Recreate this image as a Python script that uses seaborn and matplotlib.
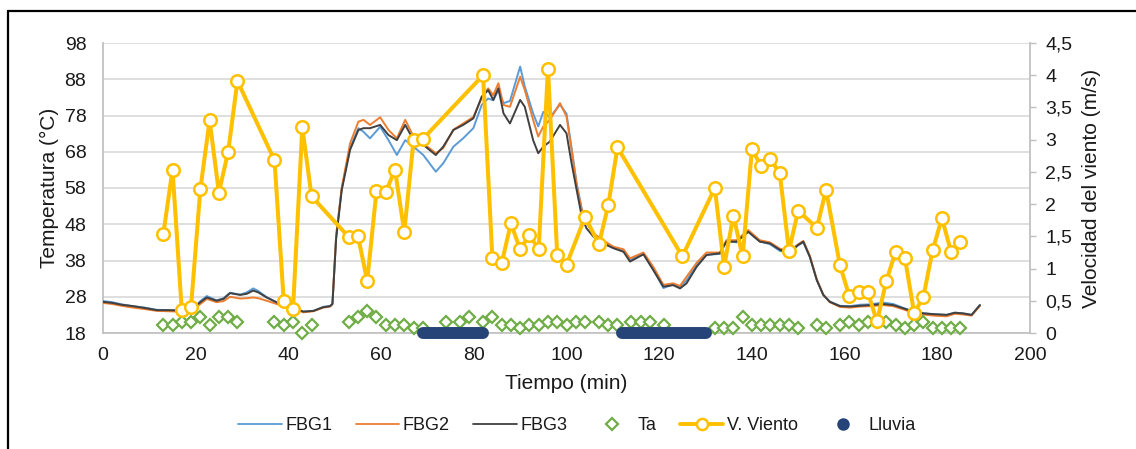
import numpy as np
import pandas as pd
import matplotlib
matplotlib.use("Agg")
import matplotlib.pyplot as plt
from matplotlib.lines import Line2D
import seaborn as sns

# ---------------- data ----------------
t_fbg = [0, 2, 4, 6.5, 9, 11.6, 14, 16.6, 19.5, 21, 22.4, 24.5, 26, 27.4, 29.6, 31, 32.4, 33.5,
         35.3, 38.2, 41, 43.2, 45.4, 47.5, 49, 49.5, 50.3, 51.5, 53.3, 55.1, 56.2, 57.6, 59.8,
         61.6, 63.4, 65.2, 67.0, 69.1, 71.8, 73.4, 75.6, 77.7, 79.9, 81.7, 83.1, 84.2, 85.3,
         86.4, 87.8, 90.0, 91.0, 92.8, 93.9, 95.0, 96.4, 98.6, 100.0, 101.1, 102.2, 103.3,
         104.3, 105.8, 107.9, 110.1, 112.3, 113.7, 116.6, 118.7, 120.9, 123.0, 124.5, 125.9,
         128.1, 130.2, 133.1, 134.5, 136.7, 139.2, 141.7, 143.9, 146.1, 148.2, 150.0, 151.1,
         152.5, 154.0, 155.4, 156.8, 159.0, 161.2, 163.3, 165.5, 168.3, 170.5, 172.7, 174.8,
         177.0, 179.1, 182.0, 183.8, 185.6, 187.4, 189.2]
fbg3 = [26.6, 26.3, 25.8, 25.4, 24.9, 24.3, 24.3, 24.2, 24.8, 26.5, 27.8, 26.9, 27.4, 29.0, 28.5,
        28.8, 29.7, 29.2, 27.8, 26.0, 25.0, 23.9, 24.1, 25.1, 25.4, 26.0, 44.0, 57.4, 68.5, 74.0,
        74.5, 74.5, 75.4, 72.6, 71.2, 75.4, 71.2, 69.9, 67.1, 69.4, 74.0, 75.4, 77.2, 83.2, 85.0,
        82.3, 85.5, 78.6, 75.8, 82.3, 80.4, 71.2, 67.6, 69.4, 70.8, 75.4, 73.1, 64.8, 57.4, 50.1,
        46.9, 44.6, 42.7, 41.4, 40.4, 37.7, 39.7, 35.4, 30.8, 31.2, 30.3, 31.7, 36.3, 39.5, 40.0,
        43.2, 43.2, 45.9, 43.2, 42.7, 40.9, 40.4, 42.3, 43.2, 39.0, 32.6, 28.5, 26.6, 25.4, 25.3,
        25.5, 25.7, 26.0, 25.7, 24.8, 23.9, 23.4, 23.2, 23.0, 23.6, 23.4, 23.0, 25.7]
fbg2 = [26.3, 26.0, 25.5, 25.0, 24.6, 24.1, 24.0, 23.9, 24.5, 26.0, 27.4, 26.5, 26.8, 28.0, 27.5,
        27.6, 27.8, 27.6, 26.9, 25.7, 24.8, 23.7, 24.0, 25.0, 25.3, 26.0, 45.0, 58.0, 70.3, 76.3,
        76.8, 75.4, 77.5, 74.0, 71.7, 76.8, 72.2, 70.3, 67.6, 69.0, 74.1, 75.8, 77.6, 82.8, 85.5,
        83.6, 86.9, 80.9, 80.4, 88.7, 85.0, 76.8, 72.2, 75.0, 76.8, 81.4, 77.7, 68.5, 58.8, 51.9,
        48.7, 45.5, 43.6, 41.8, 41.1, 38.6, 40.2, 36.3, 31.3, 31.7, 31.0, 33.5, 37.4, 40.2, 40.2,
        43.6, 43.6, 46.4, 43.6, 43.0, 41.2, 40.7, 42.5, 43.4, 39.3, 32.8, 28.6, 26.5, 25.2, 25.0,
        25.3, 25.4, 25.7, 25.4, 24.5, 23.6, 23.1, 22.8, 22.6, 23.3, 23.1, 22.8, 25.5]
fbg1 = [26.8, 26.5, 25.9, 25.4, 25.0, 24.4, 24.3, 24.2, 24.8, 26.8, 28.2, 27.0, 27.6, 29.1, 28.6,
        29.2, 30.3, 29.6, 27.9, 26.0, 25.0, 23.9, 24.1, 25.2, 25.5, 26.0, 44.5, 57.8, 69.0, 74.5,
        73.5, 71.7, 74.9, 71.2, 67.1, 71.2, 69.4, 67.1, 62.5, 64.8, 69.4, 71.7, 74.5, 80.9, 82.7,
        82.2, 85.0, 81.4, 82.0, 91.5, 86.0, 78.6, 75.0, 79.0, 77.5, 81.0, 78.5, 69.0, 59.2, 52.2,
        48.5, 45.2, 43.2, 41.6, 40.8, 38.1, 39.9, 35.6, 30.4, 31.4, 30.8, 32.5, 36.8, 39.6, 39.8,
        43.4, 43.0, 46.2, 43.3, 42.5, 40.6, 40.3, 42.2, 43.0, 39.0, 32.6, 28.5, 26.7, 25.5, 25.4,
        25.8, 25.9, 26.4, 26.0, 24.9, 24.0, 23.5, 23.2, 23.0, 23.6, 23.4, 23.0, 25.7]

t_wind = [13, 15, 17, 19, 21, 23, 25, 27, 29, 37, 39, 41, 43, 45, 53, 55, 57, 59, 61, 63, 65, 67,
          69, 82, 84, 86, 88, 90, 92, 94, 96, 98, 100, 104, 107, 109, 111, 125, 132, 134, 136,
          138, 140, 142, 144, 146, 148, 150, 154, 156, 159, 161, 163, 165, 167, 169, 171, 173,
          175, 177, 179, 181, 183, 185]
wind = [1.53, 2.53, 0.35, 0.41, 2.23, 3.30, 2.18, 2.81, 3.91, 2.68, 0.49, 0.38, 3.19, 2.12,
        1.49, 1.51, 0.81, 2.20, 2.19, 2.53, 1.57, 2.99, 3.01, 4.00, 1.17, 1.08, 1.70, 1.30,
        1.52, 1.30, 4.10, 1.21, 1.06, 1.80, 1.38, 1.98, 2.88, 1.19, 2.25, 1.03, 1.82, 1.19,
        2.85, 2.59, 2.70, 2.48, 1.28, 1.90, 1.63, 2.22, 1.05, 0.58, 0.63, 0.63, 0.18, 0.81,
        1.26, 1.17, 0.31, 0.56, 1.29, 1.78, 1.25, 1.41]

t_ta = [13, 15, 17, 19, 21, 23, 25, 27, 29, 37, 39, 41, 43, 45, 53, 55, 57, 59, 61, 63, 65, 67,
        69, 74, 77, 79, 82, 84, 86, 88, 90, 92, 94, 96, 98, 100, 102, 104, 107, 109, 111, 114,
        116, 118, 121, 132, 134, 136, 138, 140, 142, 144, 146, 148, 150, 154, 156, 159, 161,
        163, 165, 167, 169, 171, 173, 175, 177, 179, 181, 183, 185]
ta = [20.2, 20.2, 21.1, 21.1, 22.3, 20.2, 22.3, 22.3, 21.1, 21.1, 20.2, 21.1, 17.9, 20.2,
      21.1, 22.3, 24.2, 22.3, 20.2, 20.2, 20.2, 19.3, 19.3, 21.1, 21.1, 22.3, 21.1, 22.3,
      20.2, 20.2, 19.3, 20.2, 20.2, 21.1, 21.1, 20.2, 21.1, 21.1, 21.1, 20.2, 20.2, 21.1,
      21.1, 21.1, 20.2, 19.3, 19.3, 19.3, 22.3, 20.2, 20.2, 20.2, 20.2, 20.2, 19.3, 20.2,
      19.3, 20.2, 21.1, 20.2, 21.1, 21.1, 21.1, 20.2, 19.3, 20.2, 21.1, 19.3, 19.3, 19.3, 19.3]

rain_start = [69, 112]
rain_end = [82, 130]
rain_level = 0

x_ticks = [0, 20, 40, 60, 80, 100, 120, 140, 160, 180, 200]
y_left_ticks = [18, 28, 38, 48, 58, 68, 78, 88, 98]
y_right_ticks = [0, 0.5, 1, 1.5, 2, 2.5, 3, 3.5, 4, 4.5]
y_right_labels = ["0", "0,5", "1", "1,5", "2", "2,5", "3", "3,5", "4", "4,5"]

# ---------------- style ----------------
sns.set_theme(style="white")
plt.rcParams['font.family'] = ['Liberation Sans', 'DejaVu Sans']

C_BLUE = "#5B9BD5"
C_ORANGE = "#ED7D31"
C_DARK = "#404040"
C_GREEN = "#70AD47"
C_YELLOW = "#FFC000"
C_NAVY = "#264478"
GRID = "#d9d9d9"
TXT = "#1a1a1a"
FS_TICK = 14
FS_LAB = 15
FS_LEG = 13

fig = plt.figure(figsize=(11.36, 4.49), dpi=100)
ax = fig.add_axes([103 / 1136, 1 - 333 / 449, (1030 - 103) / 1136, (333 - 43) / 449])
ax2 = ax.twinx()

df_fbg = pd.DataFrame({"t": t_fbg, "FBG1": fbg1, "FBG2": fbg2, "FBG3": fbg3})
for name, col in [("FBG1", C_BLUE), ("FBG2", C_ORANGE), ("FBG3", C_DARK)]:
    sns.lineplot(data=df_fbg, x="t", y=name, ax=ax, color=col, linewidth=1.4,
                 sort=False, legend=False, zorder=3)

df_ta = pd.DataFrame({"t": t_ta, "Ta": ta})
ax.plot(df_ta["t"], df_ta["Ta"], linestyle="none", marker="D", markersize=6.2,
        markerfacecolor="white", markeredgecolor=C_GREEN, markeredgewidth=1.6,
        clip_on=False, zorder=4)

df_w = pd.DataFrame({"t": t_wind, "v": wind})
sns.lineplot(data=df_w, x="t", y="v", ax=ax2, color=C_YELLOW, linewidth=2.9, sort=False,
             marker="o", markersize=9, markerfacecolor="white", markeredgecolor=C_YELLOW,
             markeredgewidth=1.8, legend=False, zorder=5)

for s, e in zip(rain_start, rain_end):
    ax2.plot([s, e], [rain_level, rain_level], color=C_NAVY, linewidth=8.6,
             solid_capstyle="round", clip_on=False, zorder=6)

ax.set_xlim(0, 200)
ax.set_ylim(18, 98)
ax2.set_ylim(0, 4.5)
ax.set_xticks(x_ticks)
ax.set_xticklabels([str(v) for v in x_ticks])
ax.set_yticks(y_left_ticks)
ax.set_yticklabels([str(v) for v in y_left_ticks])
ax2.set_yticks(y_right_ticks)
ax2.set_yticklabels(y_right_labels)

ax.yaxis.grid(True, color=GRID, linewidth=1.2)
ax.xaxis.grid(False)
ax2.grid(False)
ax.set_axisbelow(True)
ax.set_zorder(1)
ax2.set_zorder(2)
ax2.patch.set_visible(False)

for a in (ax, ax2):
    for sp in a.spines.values():
        sp.set_visible(False)
ax.spines['left'].set_visible(True)
ax.spines['left'].set_color("#bfbfbf")
ax.spines['bottom'].set_visible(True)
ax.spines['bottom'].set_color("#bfbfbf")
ax.spines['bottom'].set_linewidth(1.2)
ax2.spines['right'].set_visible(True)
ax2.spines['right'].set_color("#bfbfbf")

ax.tick_params(axis='x', length=0, labelsize=FS_TICK, colors=TXT, pad=10)
ax.tick_params(axis='y', length=0, labelsize=FS_TICK, colors=TXT, pad=12)
ax2.tick_params(axis='y', length=4, width=1, color="#bfbfbf", labelsize=FS_TICK,
                labelcolor=TXT, pad=7, direction='out')

ax.set_xlabel("Tiempo (min)", fontsize=FS_LAB, color=TXT, labelpad=7)
ax.set_ylabel("Temperatura (°C)", fontsize=FS_LAB, color=TXT, labelpad=4)
ax2.set_ylabel("Velocidad del viento (m/s)", fontsize=FS_LAB, color=TXT, labelpad=7)

handles = [
    Line2D([], [], color=C_BLUE, linewidth=1.3),
    Line2D([], [], color=C_ORANGE, linewidth=1.3),
    Line2D([], [], color=C_DARK, linewidth=1.3),
    Line2D([], [], linestyle="none", marker="D", markersize=6, markerfacecolor="white",
           markeredgecolor=C_GREEN, markeredgewidth=1.6),
    Line2D([], [], color=C_YELLOW, linewidth=2.8, marker="o", markersize=8,
           markerfacecolor="white", markeredgecolor=C_YELLOW, markeredgewidth=1.8),
    Line2D([], [], linestyle="none", marker="o", markersize=8, color=C_NAVY),
]
labels = ["FBG1", "FBG2", "FBG3", "Ta", "V. Viento", "Lluvia"]
leg = fig.legend(handles, labels, loc="center", bbox_to_anchor=(577 / 1136, 1 - 426 / 449),
                 ncol=6, frameon=False, fontsize=FS_LEG, handlelength=2.4, handletextpad=0.2,
                 columnspacing=1.3)
for txt in leg.get_texts():
    txt.set_color(TXT)

# outer frame (top and left edges visible)
fig.add_artist(Line2D([8 / 1136, 8 / 1136], [0, 1 - 11 / 449], color="black",
                      linewidth=1.6, transform=fig.transFigure))
fig.add_artist(Line2D([8 / 1136, 1], [1 - 11 / 449, 1 - 11 / 449], color="black",
                      linewidth=1.6, transform=fig.transFigure))

fig.savefig("out.png", dpi=100)
